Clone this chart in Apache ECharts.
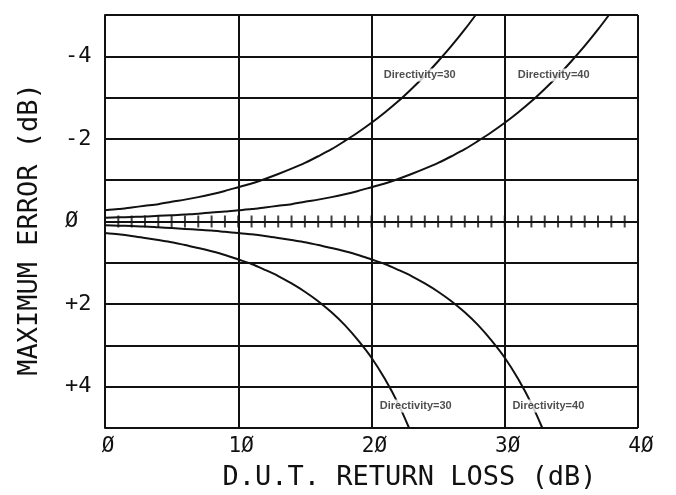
<!DOCTYPE html>
<html>
<head>
<meta charset="utf-8">
<script src="https://cdn.jsdelivr.net/npm/echarts@6/dist/echarts.min.js"></script>
<style>html,body{margin:0;padding:0;background:#fff}#c{width:676px;height:495px}</style>
</head>
<body>
<div id="c"></div>
<script>
// x: D.U.T. return loss (dB); y: maximum error (dB)
const rl30Up  = [0,1,2,3,4,5,6,7,8,9,10,11,12,13,14,15,16,17,18,19,20,21,22,23,24,25,26,27,27.82];
const err30Up = [-0.27,-0.30,-0.34,-0.38,-0.42,-0.48,-0.53,-0.59,-0.66,-0.74,-0.83,-0.92,-1.03,-1.15,-1.28,-1.42,-1.58,-1.75,-1.95,-2.16,-2.39,-2.64,-2.91,-3.21,-3.53,-3.88,-4.25,-4.65,-5.0];
const rl30Lo  = [0,1,2,3,4,5,6,7,8,9,10,11,12,13,14,15,16,17,18,19,20,21,22,22.82];
const err30Lo = [0.28,0.31,0.35,0.40,0.45,0.50,0.57,0.64,0.72,0.81,0.92,1.03,1.17,1.32,1.50,1.70,1.93,2.20,2.51,2.88,3.30,3.81,4.41,5.0];
const rl40Up  = [0,1,2,3,4,5,6,7,8,9,10,11,12,13,14,15,16,17,18,19,20,21,22,23,24,25,26,27,28,29,30,31,32,33,34,35,36,37,37.82];
const err40Up = [-0.09,-0.10,-0.11,-0.12,-0.14,-0.15,-0.17,-0.19,-0.22,-0.24,-0.27,-0.30,-0.34,-0.38,-0.42,-0.48,-0.53,-0.59,-0.66,-0.74,-0.83,-0.92,-1.03,-1.15,-1.28,-1.42,-1.58,-1.75,-1.95,-2.16,-2.39,-2.64,-2.91,-3.21,-3.53,-3.88,-4.25,-4.65,-5.0];
const rl40Lo  = [0,1,2,3,4,5,6,7,8,9,10,11,12,13,14,15,16,17,18,19,20,21,22,23,24,25,26,27,28,29,30,31,32,32.82];
const err40Lo = [0.09,0.10,0.11,0.12,0.14,0.16,0.18,0.20,0.22,0.25,0.28,0.31,0.35,0.40,0.45,0.50,0.57,0.64,0.72,0.81,0.92,1.03,1.17,1.32,1.50,1.70,1.93,2.20,2.51,2.88,3.30,3.81,4.41,5.0];
const hashX = [1,2,3,4,5,6,7,8,9,10,11,12,13,14,15,16,17,18,19,20,21,22,23,24,25,26,27,28,29,30,31,32,33,34,35,36,37,38,39];
const labelText = ['Directivity=30','Directivity=40','Directivity=30','Directivity=40'];
const labelX = [20.85, 30.9, 20.55, 30.5];
const labelY = [-3.55, -3.55, 4.47, 4.47];
const xTicks = [0,10,20,30,40];
const yTicks = [-4,-2,0,2,4];

const zip = (a, b) => a.map((v, i) => [v, b[i]]);
const slashZero = s => String(s).replace(/0/g, '\u00D8');
const mono = 'DejaVu Sans Mono';
const ink = '#111';

const lineSeries = (name, xs, ys) => ({
  name, type: 'line', data: zip(xs, ys), smooth: 0.3, symbol: 'none',
  lineStyle: { color: ink, width: 2 }, z: 3, silent: true
});

const chart = echarts.init(document.getElementById('c'), null, { renderer: 'canvas' });
chart.setOption({
  backgroundColor: '#fff',
  animation: false,
  grid: { left: 105, top: 15, right: 38, bottom: 67, outerBoundsMode: 'none', containLabel: false },
  xAxis: {
    type: 'value', min: 0, max: 40, interval: 10,
    name: 'D.U.T. RETURN LOSS (dB)', nameLocation: 'middle', nameGap: 36,
    nameTextStyle: { fontFamily: mono, fontSize: 27, color: ink, padding: [0, 0, 0, 76] },
    axisLine: { show: true, lineStyle: { color: ink, width: 2 } },
    axisTick: { show: false },
    axisLabel: { fontFamily: mono, fontSize: 21, color: ink, margin: 8, padding: [0, 0, 0, 6],
      formatter: v => xTicks.includes(v) ? slashZero(v) : '' },
    splitLine: { show: true, lineStyle: { color: ink, width: 2 } }
  },
  yAxis: {
    type: 'value', min: -5, max: 5, interval: 1, inverse: true,
    name: 'MAXIMUM ERROR (dB)', nameLocation: 'middle', nameGap: 62, nameRotate: 90,
    nameTextStyle: { fontFamily: mono, fontSize: 27, color: ink, padding: [0, 16, 0, 0] },
    axisLine: { show: true, lineStyle: { color: ink, width: 2 } },
    axisTick: { show: false },
    axisLabel: { fontFamily: mono, fontSize: 22, color: ink, margin: 40, align: 'left',
      formatter: v => yTicks.includes(v) ? (v > 0 ? '+' + v : slashZero(v)) : '' },
    splitLine: { show: true, lineStyle: { color: ink, width: 2 } }
  },
  series: [
    lineSeries('D30 upper', rl30Up, err30Up),
    lineSeries('D30 lower', rl30Lo, err30Lo),
    lineSeries('D40 upper', rl40Up, err40Up),
    lineSeries('D40 lower', rl40Lo, err40Lo),
    {
      name: 'hash', type: 'scatter', data: hashX.map(x => [x, 0]),
      symbol: 'rect', symbolSize: [2, 12], itemStyle: { color: ink }, z: 4, silent: true
    },
    {
      name: 'labels', type: 'scatter', symbolSize: 0, z: 10, silent: true,
      data: labelX.map((x, i) => ({ value: [x, labelY[i]], name: labelText[i] })),
      label: {
        show: true, position: 'right', distance: 0, formatter: p => p.name,
        fontFamily: 'Liberation Sans', fontSize: 11, fontWeight: 'bold', color: '#222',
        backgroundColor: '#fff', padding: [1, 1]
      }
    }
  ]
});
</script>
</body>
</html>
